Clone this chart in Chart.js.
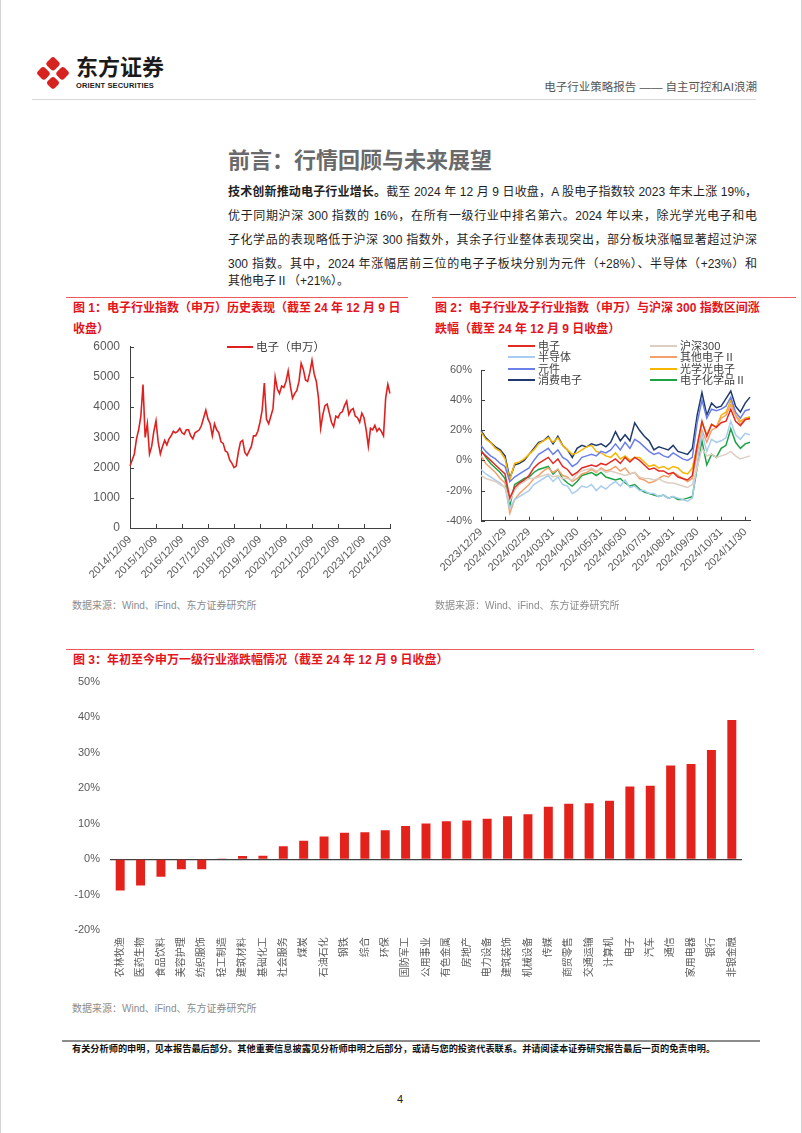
<!DOCTYPE html>
<html>
<head>
<meta charset="utf-8">
<script src="https://cdn.jsdelivr.net/npm/chart.js@4.4.0/dist/chart.umd.min.js"></script>
<style>
  body { margin: 0; width: 802px; height: 1133px; background: #fff; position: relative; overflow: hidden;
         font-family: "Liberation Sans", "Noto Sans CJK SC", sans-serif; }
  .abs { position: absolute; white-space: nowrap; }
  .edge { position: absolute; top: 0; width: 1px; height: 1133px; background: #d4d4d4; }
  .logo { position: absolute; left: 41px; top: 61px; width: 24px; height: 24px; transform: rotate(45deg);
          display: grid; grid-template-columns: 10.5px 10.5px; grid-template-rows: 10.5px 10.5px; gap: 3px; }
  .logo div { background: #d7231f; border-radius: 3px; }
  .para { position: absolute; left: 228px; width: 529px; font-size: 12px; color: #1f1f1f; line-height: 18px;
          text-align: justify; text-align-last: justify; white-space: nowrap; }
  .ttl { position: absolute; font-size: 12px; font-weight: bold; color: #e3141c; line-height: 20px; white-space: nowrap; }
  .redline { position: absolute; height: 1px; background: #ec5a5e; }
  .src { position: absolute; font-size: 10px; color: #8c8c8c; white-space: nowrap; }
  canvas { position: absolute; }
  .lg { position: absolute; font-size: 11px; color: #404040; line-height: 11.3px; white-space: nowrap; }
  .lg span.ln { display: inline-block; width: 27px; height: 2px; vertical-align: middle; margin-right: 3px; position: relative; top: -1px; }
  #legend2 { display: grid; grid-template-columns: 142px 120px; }
</style>
</head>
<body>
<div class="edge" style="left:0"></div>
<div class="edge" style="left:801px"></div>

<!-- header -->
<div class="logo"><div></div><div></div><div></div><div></div></div>
<div class="abs" style="left:76px;top:57px;font-size:22px;font-weight:bold;color:#1a1a1a;line-height:22px;">东方证券</div>
<div class="abs" style="left:76px;top:81px;font-size:7.5px;font-weight:bold;color:#1a1a1a;letter-spacing:0.15px;">ORIENT SECURITIES</div>
<div class="abs" style="right:45px;top:80px;font-size:11.5px;color:#555;line-height:14px;">电子行业策略报告 —— 自主可控和AI浪潮</div>
<div class="abs" style="left:32px;top:99px;width:724px;height:1px;background:#d9d9d9;"></div>

<!-- section title and text -->
<div class="abs" style="left:228px;top:149px;font-size:22px;font-weight:bold;color:#6a6a6a;line-height:24px;">前言：行情回顾与未来展望</div>
<div class="para" style="top:183px"><b>技术创新推动电子行业增长。</b>截至 2024 年 12 月 9 日收盘，A 股电子指数较 2023 年末上涨 19%，</div>
<div class="para" style="top:207px">优于同期沪深 300 指数的 16%，在所有一级行业中排名第六。2024 年以来，除光学光电子和电</div>
<div class="para" style="top:231px">子化学品的表现略低于沪深 300 指数外，其余子行业整体表现突出，部分板块涨幅显著超过沪深</div>
<div class="para" style="top:255px">300 指数。其中，2024 年涨幅居前三位的电子子板块分别为元件（+28%）、半导体（+23%）和</div>
<div class="para" style="top:272px;text-align-last:left">其他电子Ⅱ（+21%）。</div>

<!-- figure 1 -->
<div class="redline" style="left:66px;top:297px;width:342px"></div>
<div class="ttl" style="left:73px;top:298px">图 1：电子行业指数（申万）历史表现（截至 24 年 12 月 9 日</div>
<div class="ttl" style="left:73px;top:319px">收盘）</div>
<canvas id="c1" width="345" height="265" style="left:60px;top:330px"></canvas>
<div class="lg" style="left:227px;top:342px;font-size:11.5px"><span class="ln" style="background:#e0201f;width:26px"></span>电子（申万）</div>
<div class="src" style="left:72px;top:597px">数据来源：Wind、iFind、东方证券研究所</div>

<!-- figure 2 -->
<div class="redline" style="left:432px;top:297px;width:364px"></div>
<div class="ttl" style="left:435px;top:298px">图 2：电子行业及子行业指数（申万）与沪深 300 指数区间涨</div>
<div class="ttl" style="left:435px;top:319px">跌幅（截至 24 年 12 月 9 日收盘）</div>
<canvas id="c2" width="335" height="270" style="left:425px;top:330px"></canvas>
<div class="lg" id="legend2" style="left:508px;top:341px"></div>
<div class="src" style="left:435px;top:597px">数据来源：Wind、iFind、东方证券研究所</div>

<!-- figure 3 -->
<div class="redline" style="left:66px;top:649px;width:688px"></div>
<div class="ttl" style="left:73px;top:650px">图 3：年初至今申万一级行业涨跌幅情况（截至 24 年 12 月 9 日收盘）</div>
<canvas id="c3" width="700" height="320" style="left:60px;top:670px"></canvas>
<div class="src" style="left:72px;top:1000px">数据来源：Wind、iFind、东方证券研究所</div>

<!-- footer -->
<div class="abs" style="left:62px;top:1040px;width:698px;height:1.5px;background:#8c8c8c;"></div>
<div class="abs" style="left:72px;top:1043px;font-size:9.2px;font-weight:bold;color:#111;line-height:12px;">有关分析师的申明，见本报告最后部分。其他重要信息披露见分析师申明之后部分，或请与您的投资代表联系。并请阅读本证券研究报告最后一页的免责申明。</div>
<div class="abs" style="left:397px;top:1093px;font-size:11px;color:#222;">4</div>

<script>
// ---- 图1：电子（申万）指数，月度取样 2014/12 - 2024/12 ----
const yearTicks = ['2014/12/09', '2015/12/09', '2016/12/09', '2017/12/09', '2018/12/09', '2019/12/09',
                   '2020/12/09', '2021/12/09', '2022/12/09', '2023/12/09', '2024/12/09'];
const elecIndex = [
  2050,
  2250, 2450, 2950, 3250, 3700, 4750, 3000, 3450, 2450, 2700, 3200, 3550,
  2850, 2450, 2700, 2900, 2750, 2950, 3050, 3200, 3150, 3200, 3300, 3150,
  3100, 3250, 3250, 3050, 2950, 3150, 3200, 3250, 3400, 3650, 3900, 3600,
  3450, 3050, 3450, 3250, 3150, 2850, 2800, 2550, 2500, 2250, 2150, 2000,
  2050, 2500, 2850, 2900, 2500, 2400, 2550, 2700, 3050, 3050, 3200, 3500,
  3900, 4800, 3600, 3450, 3700, 3950, 5000, 4600, 4450, 4700, 4650, 4850,
  5200, 4700, 4300, 4450, 4550, 4850, 5450, 5250, 4900, 4850, 5150, 5550,
  5100, 4850, 4300, 3300, 3750, 4050, 4100, 3800, 3500, 3350, 3700, 3650,
  3800, 3850, 4050, 4200, 3750, 3900, 3950, 3700, 3650, 3500, 3800, 3650,
  3250, 2700, 3300, 3250, 3400, 3200, 3300, 3200, 3050, 4300, 4750, 4450
];

// ---- 图2：区间涨跌幅（%），每月约 5 个取样点 ----
const monthTicks = ['2023/12/29', '2024/01/29', '2024/02/29', '2024/03/31', '2024/04/30', '2024/05/31',
                    '2024/06/30', '2024/07/31', '2024/08/31', '2024/09/30', '2024/10/31', '2024/11/30'];
const seriesNames = ['电子', '沪深300', '半导体', '其他电子Ⅱ', '元件', '光学光电子', '消费电子', '电子化学品Ⅱ'];
const seriesColors = ['#e32b23', '#dccfc2', '#a9cdf0', '#f5a06a', '#6a7fe8', '#f7b500', '#1f3a6b', '#1ba345'];
const sElec = [6,3,0,-3,-6,-9,-25,-18,-15,-13,-10,-5,-2,0,2,-2,1,-4,-6,-10,-8,-5,-4,-3,-4,-2,-3,-1,1,-2,2,-1,2,0,-3,-6,-5,-7,-7,-9,-8,-11,-12,-13,-10,10,26,16,24,22,25,26,34,26,23,27,28];
const sHs300 = [-10,-12,-13,-14,-16,-18,-27,-20,-16,-14,-12,-12,-11,-10,-9,-11,-10,-12,-12,-13,-9,-7,-6,-5,-7,-6,-8,-7,-8,-9,-10,-9,-8,-11,-12,-12,-13,-12,-14,-15,-15,-16,-17,-18,-16,-5,8,3,4,2,3,4,6,3,1,2,3];
const sSemi = [-6,-9,-11,-13,-15,-18,-32,-26,-24,-22,-20,-16,-14,-12,-10,-14,-11,-16,-17,-22,-20,-17,-18,-16,-20,-17,-19,-16,-14,-17,-13,-18,-17,-20,-20,-22,-22,-24,-23,-25,-24,-25,-26,-27,-25,-2,18,6,14,12,13,15,26,17,14,18,17];
const sOther = [3,-2,-5,-8,-12,-15,-35,-26,-22,-19,-16,-12,-10,-7,-5,-8,-6,-10,-11,-14,-12,-9,-8,-6,-8,-5,-7,-6,-4,-7,-5,-9,-8,-12,-13,-15,-14,-12,-10,-11,-8,-10,-12,-14,-12,5,20,12,20,22,28,30,37,30,24,28,27];
const sComp = [10,6,3,1,-2,-4,-14,-11,-9,-7,-5,0,4,6,8,4,7,2,0,-4,-2,2,3,4,3,6,5,7,11,7,12,8,14,12,9,6,4,5,3,2,5,3,1,0,2,25,40,28,34,33,34,36,42,32,28,33,34];
const sOpto = [19,14,12,8,6,1,-13,-2,-1,1,4,7,11,13,15,12,15,10,7,4,5,7,9,10,6,5,3,2,5,1,3,0,2,2,-1,-4,-3,-5,-4,-6,-4,-5,-8,-9,-5,10,25,17,24,22,30,32,40,30,26,28,29];
const sCons = [20,15,12,9,7,3,-12,-3,-2,0,4,8,12,13,16,11,16,10,7,2,8,10,9,11,10,11,9,12,19,13,17,13,25,20,16,13,7,9,8,7,10,6,5,4,8,30,45,30,38,35,36,41,46,36,32,38,42];
const sChem = [7,2,-2,-5,-8,-12,-30,-16,-14,-12,-11,-8,-6,-5,-4,-9,-6,-12,-15,-17,-14,-10,-9,-8,-10,-8,-11,-12,-13,-12,-15,-17,-16,-19,-21,-22,-23,-24,-23,-25,-24,-26,-26,-25,-24,-5,13,-3,4,2,8,10,21,12,8,11,12];

// ---- 图3：申万一级行业年初至今涨跌幅（%） ----
const industries = ['农林牧渔', '医药生物', '食品饮料', '美容护理', '纺织服饰', '轻工制造', '建筑材料', '基础化工',
  '社会服务', '煤炭', '石油石化', '钢铁', '综合', '环保', '国防军工', '公用事业', '有色金属', '房地产', '电力设备',
  '建筑装饰', '机械设备', '传媒', '商贸零售', '交通运输', '计算机', '电子', '汽车', '通信', '家用电器', '银行', '非银金融'];
const ytdChange = [-8.8, -7.4, -4.9, -2.8, -2.8, 0.2, 0.9, 1.0, 3.7, 5.2, 6.4, 7.5, 7.6, 8.2, 9.4, 10.1, 10.7, 10.9, 11.4,
  12.1, 12.7, 14.8, 15.6, 15.8, 16.5, 20.5, 20.7, 26.4, 26.8, 30.8, 39.2];

Chart.defaults.font.family = '"Liberation Sans", "Noto Sans CJK SC", sans-serif';
Chart.defaults.color = '#595959';
Chart.defaults.animation = false;
Chart.defaults.events = [];
Chart.defaults.plugins.legend.display = false;
Chart.defaults.plugins.tooltip.enabled = false;

// 坐标轴内侧的小刻度
const innerTicks = {
  id: 'innerTicks',
  afterDatasetsDraw(chart, args, opts) {
    const { ctx, chartArea: a, scales } = chart;
    ctx.save();
    ctx.strokeStyle = '#404040';
    ctx.lineWidth = 1;
    ctx.beginPath();
    scales.x.ticks.forEach((t, i) => {
      if (!t.label) return;
      const px = Math.round(scales.x.getPixelForTick(i)) + 0.5;
      ctx.moveTo(px, a.bottom);
      ctx.lineTo(px, a.bottom - opts.len);
    });
    scales.y.ticks.forEach((t, i) => {
      const py = Math.round(scales.y.getPixelForTick(i)) + 0.5;
      ctx.moveTo(a.left, py);
      ctx.lineTo(a.left + opts.len, py);
    });
    ctx.stroke();
    ctx.restore();
  }
};

function fitX(h) {
  return (scale) => { scale.height = h; scale.paddingLeft = 0; scale.paddingRight = 0; };
}
function fitY(w) {
  return (scale) => { scale.width = w; scale.paddingTop = 0; scale.paddingBottom = 0; };
}

// 图1
const labels1 = elecIndex.map((v, i) => (i % 12 === 0 ? yearTicks[i / 12] : ''));
new Chart(document.getElementById('c1'), {
  type: 'line',
  data: {
    labels: labels1,
    datasets: [{ label: '电子（申万）', data: elecIndex, borderColor: '#e0201f', borderWidth: 1.6, pointRadius: 0, tension: 0 }]
  },
  options: {
    responsive: false,
    layout: { padding: { top: 16.7, right: 15, left: 0, bottom: 0 } },
    plugins: { innerTicks: { len: 4 } },
    scales: {
      x: {
        grid: { display: false, drawTicks: false },
        border: { display: true, color: '#404040', width: 1 },
        ticks: { autoSkip: false, minRotation: 45, maxRotation: 45, padding: 5, font: { size: 11 }, color: '#595959' },
        afterFit: fitX(67)
      },
      y: {
        min: 0, max: 6000,
        grid: { display: false, drawTicks: false },
        border: { display: true, color: '#404040', width: 1 },
        ticks: { stepSize: 1000, padding: 10, font: { size: 12 }, color: '#595959', callback: (v) => String(v) },
        afterFit: fitY(70)
      }
    }
  },
  plugins: [innerTicks]
});

// 图2
const seriesData = [sElec, sHs300, sSemi, sOther, sComp, sOpto, sCons, sChem];
const labels2 = sElec.map((v, i) => (i % 5 === 0 && monthTicks[i / 5] ? monthTicks[i / 5] : ''));
new Chart(document.getElementById('c2'), {
  type: 'line',
  data: {
    labels: labels2,
    datasets: seriesNames.map((name, k) => ({
      label: name, data: seriesData[k], borderColor: seriesColors[k], borderWidth: 1.5, pointRadius: 0, tension: 0
    }))
  },
  options: {
    responsive: false,
    layout: { padding: { top: 40, right: 10, left: 0, bottom: 0 } },
    plugins: { innerTicks: { len: 4 } },
    scales: {
      x: {
        grid: { display: false, drawTicks: false },
        border: { display: true, color: '#404040', width: 1 },
        ticks: { autoSkip: false, minRotation: 45, maxRotation: 45, padding: 5, font: { size: 11 }, color: '#595959' },
        afterFit: fitX(79.3)
      },
      y: {
        min: -40, max: 60,
        grid: { display: false, drawTicks: false },
        border: { display: true, color: '#404040', width: 1 },
        ticks: { stepSize: 10, padding: 9, font: { size: 11 }, color: '#595959', callback: (v) => v + '%' },
        afterFit: fitY(56)
      }
    }
  },
  plugins: [innerTicks]
});

const legend2 = document.getElementById('legend2');
seriesNames.forEach((name, k) => {
  const item = document.createElement('div');
  item.innerHTML = '<span class="ln" style="background:' + seriesColors[k] + '"></span>' + name;
  legend2.appendChild(item);
});

// 图3
new Chart(document.getElementById('c3'), {
  type: 'bar',
  data: {
    labels: industries,
    datasets: [{ data: ytdChange, backgroundColor: '#e3221c', barPercentage: 1, categoryPercentage: 0.44 }]
  },
  options: {
    responsive: false,
    layout: { padding: { top: 11.7, right: 18, left: 0, bottom: 0 } },
    scales: {
      x: {
        grid: { display: false, drawTicks: false },
        border: { display: false },
        ticks: { autoSkip: false, minRotation: 90, maxRotation: 90, padding: 7, font: { size: 10 }, color: '#595959' },
        afterFit: fitX(59.7)
      },
      y: {
        min: -20, max: 50,
        grid: { drawTicks: false, lineWidth: 1.2, color: (c) => (c.tick && c.tick.value === 0 ? '#404040' : 'rgba(0,0,0,0)') },
        border: { display: false },
        ticks: { stepSize: 10, padding: 10, font: { size: 11 }, color: '#595959', callback: (v) => v + '%' },
        afterFit: fitY(50)
      }
    }
  }
});
</script>
</body>
</html>
